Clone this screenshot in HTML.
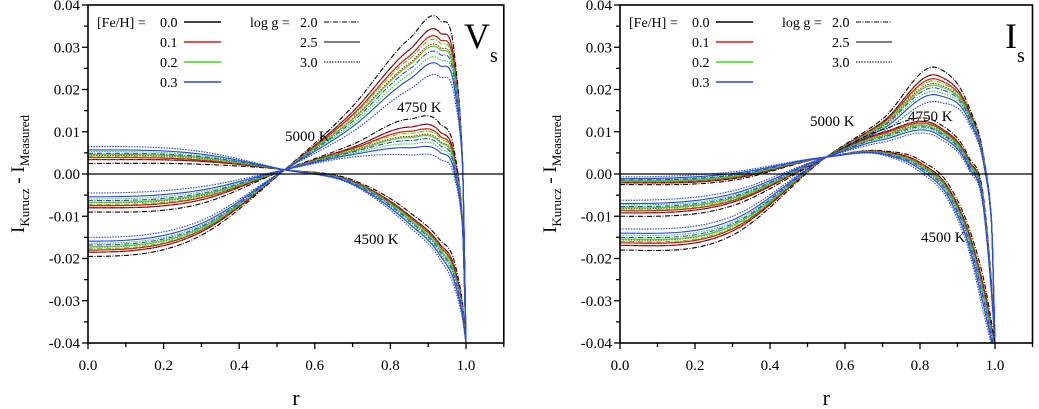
<!DOCTYPE html>
<html><head><meta charset="utf-8"><style>
html,body{margin:0;padding:0;background:#fff}
svg{display:block;font-family:"Liberation Serif",serif}
</style></head><body>
<svg id="chart" width="1039" height="409" viewBox="0 0 1039 409" xmlns="http://www.w3.org/2000/svg">
<defs>
<clipPath id="clipL"><rect x="88" y="5" width="417" height="338"/></clipPath>
<clipPath id="clipR"><rect x="620" y="5" width="417" height="338"/></clipPath>
</defs>
</svg>
<script>
// values in units of 1e-3
const rKeysV5000=[0,0.3,0.52,0.7,0.85,0.93,0.97,0.99,1.0];
const rKeysV4750=[0,0.3,0.52,0.7,0.85,0.93,0.97,0.99,1.0];
const rKeysV4500=[0,0.3,0.52,0.7,0.85,0.93,0.97,0.99,1.0];
const rKeysI5000=[0,0.3,0.55,0.7,0.85,0.93,0.97,0.99,1.0];
const rKeysI4750=[0,0.3,0.55,0.7,0.85,0.93,0.97,0.99,1.0];
const rKeysI4500=[0,0.3,0.55,0.7,0.8,0.88,0.93,0.97,1.0];
// curve order: Fe0.0(g2.0,g2.5,g3.0), Fe0.1(...), Fe0.2(...), Fe0.3(...)
const seriesV5000=[
[-19.5,-14.5,1,16,32,36.5,28,5,-40],[-18.5,-13.7,1,14.7,29.4,33.5,25.8,4.6,-40],[-18,-13.3,1,14,27.9,31.9,24.6,4.3,-40],
[-18.5,-13.7,1,14.7,29.4,33.5,25.8,4.6,-40],[-18,-13.3,1,14,27.9,31.9,24.6,4.3,-40],[-17.3,-12.8,1,13.1,26.2,30,23.2,4,-40],
[-17.7,-13.1,1,13.6,27.2,31.1,24,4.2,-40],[-17.2,-12.7,1,12.9,25.8,29.5,22.8,4,-40],[-16.4,-12.1,1,11.8,23.6,27.1,21,3.6,-40],
[-16.8,-12.4,1,12.4,24.8,28.4,22,3.8,-40],[-15.9,-11.7,1,11.2,22.4,25.7,20,3.4,-40],[-15,-11,1,10,20,23,18,3,-40]];
const seriesV4750=[
[-9,-7,1,7,13,12,5,-10,-40],[-8,-6.1,1,6.3,11.1,10.1,3.7,-10.4,-40],[-7.5,-5.6,1,6,10.1,9.1,3,-10.7,-40],
[-8,-6.1,1,6.3,11.1,10.1,3.7,-10.4,-40],[-7.5,-5.6,1,6,10.1,9.1,3,-10.7,-40],[-6.8,-5.1,1,5.6,8.9,7.9,2.1,-11,-40],
[-7.2,-5.4,1,5.8,9.6,8.6,2.6,-10.8,-40],[-6.7,-4.9,1,5.4,8.6,7.6,1.9,-11,-40],[-5.9,-4.2,1,4.9,7.1,6.1,0.8,-11.4,-40],
[-6.3,-4.6,1,5.2,7.9,6.9,1.4,-11.2,-40],[-5.4,-3.8,1,4.6,6.2,5.2,0.2,-11.6,-40],[-4.5,-3,1,4,4.5,3.5,-1,-12,-40]];
const seriesV4500=[
[2.5,2.3,1,-1.4,-9,-15.5,-21,-30,-40],[3.4,3,1,-1.7,-9.8,-16.5,-22.3,-30.9,-40],[3.9,3.3,1,-1.8,-10.2,-17,-23,-31.4,-40],
[3.4,3,1,-1.7,-9.8,-16.5,-22.3,-30.9,-40],[3.9,3.3,1,-1.8,-10.2,-17,-23,-31.4,-40],[4.4,3.7,1,-2,-10.7,-17.7,-23.9,-31.9,-40],
[4.1,3.5,1,-1.9,-10.4,-17.3,-23.4,-31.6,-40],[4.6,3.9,1,-2,-10.8,-17.8,-24.1,-32.1,-40],[5.3,4.4,1,-2.2,-11.5,-18.7,-25.2,-32.8,-40],
[4.9,4.1,1,-2.1,-11.1,-18.2,-24.6,-32.4,-40],[5.7,4.7,1,-2.4,-11.8,-19.1,-25.8,-33.2,-40],[6.5,5.3,1,-2.6,-12.5,-20,-27,-34,-40]];
const seriesI5000=[
[-18,-14.5,4,13,25,16,4,-10,-40],[-16.9,-13.5,4,12.3,23.2,15.1,3.6,-10.2,-40],[-16.3,-13,4,12,22.3,14.6,3.3,-10.3,-40],
[-16.9,-13.5,4,12.3,23.2,15.1,3.6,-10.2,-40],[-16.3,-13,4,12,22.3,14.6,3.3,-10.3,-40],[-15.6,-12.3,4,11.6,21.2,14.1,3,-10.5,-40],
[-16,-12.7,4,11.8,21.8,14.4,3.2,-10.4,-40],[-15.4,-12.2,4,11.4,20.8,13.9,3,-10.5,-40],[-14.5,-11.4,4,10.9,19.4,13.2,2.6,-10.7,-40],
[-15,-11.8,4,11.2,20.2,13.6,2.8,-10.6,-40],[-14,-10.9,4,10.6,18.6,12.8,2.4,-10.8,-40],[-13,-10,4,10,17,12,2,-11,-40]];
const seriesI4750=[
[-10,-7.5,4,10.5,12,4,-6,-25,-40],[-9.2,-6.7,4,9.8,11.2,3.3,-6.7,-25.7,-40],[-8.7,-6.3,4,9.5,10.8,3,-7,-26,-40],
[-9.2,-6.7,4,9.8,11.2,3.3,-6.7,-25.7,-40],[-8.7,-6.3,4,9.5,10.8,3,-7,-26,-40],[-8.2,-5.8,4,9.1,10.3,2.6,-7.4,-26.4,-40],
[-8.5,-6.1,4,9.3,10.6,2.8,-7.2,-26.2,-40],[-8,-5.7,4,8.9,10.2,2.4,-7.6,-26.6,-40],[-7.3,-5.1,4,8.4,9.6,1.9,-8.1,-27.1,-40],
[-7.7,-5.4,4,8.7,9.9,2.2,-7.8,-26.8,-40],[-7,-4.7,4,8.1,9.2,1.6,-8.4,-27.4,-40],[-6.2,-4,4,7.5,8.5,1,-9,-28,-40]];
const seriesI4500=[
[-2.5,-1.5,4,5.5,3.3,-3,-12.6,-25,-40],[-2.1,-1.1,4,5.3,2.7,-3.9,-13.8,-26.8,-40.9],[-1.9,-0.8,4,5.2,2.3,-4.4,-14.4,-27.7,-41.4],
[-2.1,-1.1,4,5.3,2.7,-3.9,-13.8,-26.8,-40.9],[-1.9,-0.8,4,5.2,2.3,-4.4,-14.4,-27.7,-41.4],[-1.6,-0.5,4,5,2,-4.9,-15.2,-28.8,-41.9],
[-1.8,-0.7,4,5.1,2.2,-4.6,-14.8,-28.2,-41.6],[-1.6,-0.5,4,5,1.8,-5.1,-15.4,-29.2,-42.1],[-1.2,-0.1,4,4.8,1.3,-5.8,-16.4,-30.6,-42.8],
[-1.4,-0.3,4,4.9,1.6,-5.4,-15.8,-29.8,-42.4],[-1.1,0.1,4,4.7,1.1,-6.2,-16.9,-31.4,-43.2],[-0.7,0.5,4,4.5,0.5,-7,-18,-33,-44]];
const feLabels=["0.0","0.1","0.2","0.3"];
const loggLabels=["2.0","2.5","3.0"];
const xTicks=[0,0.2,0.4,0.6,0.8,1.0];
const xTickLabels=["0.0","0.2","0.4","0.6","0.8","1.0"];
const yTicks=[0.04,0.03,0.02,0.01,0,-0.01,-0.02,-0.03,-0.04];
const yTickLabels=["0.04","0.03","0.02","0.01","0.00","-0.01","-0.02","-0.03","-0.04"];

const NS="http://www.w3.org/2000/svg";
const svg=document.getElementById('chart');
const colors=["#000000","#ee1111","#33dd11","#2244ff"];
const dashes=["5,1.5,1,1.5","","1.5,1.2"];
function mk(tag,attrs,parent){const e=document.createElementNS(NS,tag);for(const k in attrs)e.setAttribute(k,attrs[k]);(parent||svg).appendChild(e);return e;}
function yOf(v){return 174-v*4225;}

function tangents(xs,ys){
  const n=xs.length,d=[],m=[];
  for(let k=0;k<n-1;k++)d.push((ys[k+1]-ys[k])/(xs[k+1]-xs[k]));
  m.push(0);
  for(let k=1;k<n-1;k++){
    const h0=xs[k]-xs[k-1],h1=xs[k+1]-xs[k];
    if(k>=n-2){
      if(d[k-1]*d[k]<=0)m.push(0);
      else{const w1=2*h1+h0,w2=h1+2*h0;m.push((w1+w2)/(w1/d[k-1]+w2/d[k]));}
    } else {
      m.push((d[k-1]*h1+d[k]*h0)/(h0+h1));
    }
  }
  m.push(d[n-2]);
  return m;
}

function panel(p){
  const g=mk('g',{});
  
  
  const X=r=>p.x0+r*p.sx;
  const right=p.x0+1.1*p.sx;
  const cg=mk('g',{'clip-path':'url(#'+p.clip+')'},g);
  
  
  p.families.forEach(fam=>{
    fam.series.forEach((vals,i)=>{
      const fe=Math.floor(i/3), lg=i%3, xs=fam.keys;
      const n=xs.length, m=tangents(xs,vals);
      let d='';
      for(let k=0;k<n-1;k++){
        const h=xs[k+1]-xs[k];
        for(let j=0;j<=24;j++){
          if(k>0&&j===0)continue;
          const t=j/24,t2=t*t,t3=t2*t;
          const v=(2*t3-3*t2+1)*vals[k]+(t3-2*t2+t)*h*m[k]+(-2*t3+3*t2)*vals[k+1]+(t3-t2)*h*m[k+1];
          const px=X(xs[k]+t*h), py=yOf(v/1000);
          d+=(d?'L':'M')+px.toFixed(2)+' '+py.toFixed(2);
        }
      }
      const path=mk('path',{d:d,fill:'none',stroke:colors[fe],'stroke-width':'1.1'},cg);
      if(dashes[lg])path.setAttribute('stroke-dasharray',dashes[lg]);
      
      
    });
  });
  const z=mk('line',{x1:p.x0,x2:right,y1:yOf(0),y2:yOf(0),stroke:'#000','stroke-width':'1.3'},g);
  
  
  const fr=mk('rect',{x:p.x0,y:yOf(0.04),width:right-p.x0,height:yOf(-0.04)-yOf(0.04),fill:'none',stroke:'#000','stroke-width':'1.6'},g);
  
  
  for(let v=-0.04;v<=0.0401;v+=0.005){
    const major=Math.abs(Math.round(v*1000)%10)===0;
    mk('line',{x1:p.x0,x2:p.x0-(major?6:4),y1:yOf(v),y2:yOf(v),stroke:'#000','stroke-width':'1.3'},g);
  }
  yTicks.forEach((v,i)=>{
    const t=mk('text',{x:p.x0-8,y:yOf(v)+5,'text-anchor':'end','font-size':'15'},g);
    t.textContent=yTickLabels[i];
    
    
  });
  for(let r=0;r<=1.1001;r+=0.1){
    const major=Math.round(r*10)%2===0;
    mk('line',{x1:X(r),x2:X(r),y1:343,y2:343+(major?6:4),stroke:'#000','stroke-width':'1.3'},g);
  }
  xTicks.forEach((r,i)=>{
    const t=mk('text',{x:X(r),y:370,'text-anchor':'middle','font-size':'15'},g);
    t.textContent=xTickLabels[i];
    
    
  });
  const xt=mk('text',{x:X(0.55),y:405,'text-anchor':'middle','font-size':'22'},g);
  xt.textContent='r';
  
  
  const yt=mk('text',{transform:'translate('+(p.x0-64)+',174) rotate(-90)','text-anchor':'middle','font-size':'19'},g);
  yt.innerHTML='I<tspan font-size="13" dy="5">Kurucz</tspan><tspan dy="-5"> - I</tspan><tspan font-size="13" dy="5">Measured</tspan>';
  
  
  const lg=mk('g',{},g);
  
  
  const lx=p.x0;
  const fh=mk('text',{x:lx+9,y:27,'font-size':'14'},lg); fh.textContent='[Fe/H] =';
  feLabels.forEach((f,i)=>{
    const y=22+i*20;
    const t=mk('text',{x:lx+72,y:y+5,'font-size':'14'},lg); t.textContent=f;
    
    
    mk('line',{x1:lx+96,x2:lx+133,y1:y,y2:y,stroke:colors[i],'stroke-width':'1.4'},lg);
  });
  const lgt=mk('text',{x:lx+162,y:27,'font-size':'14'},lg); lgt.textContent='log g =';
  loggLabels.forEach((f,i)=>{
    const y=22+i*20;
    const t=mk('text',{x:lx+212,y:y+5,'font-size':'14'},lg); t.textContent=f;
    
    
    const l=mk('line',{x1:lx+236,x2:lx+272,y1:y,y2:y,stroke:'#000','stroke-width':'1.1'},lg);
    if(dashes[i])l.setAttribute('stroke-dasharray',dashes[i]);
  });
  const bt=mk('text',{x:p.band[0],y:48,'font-size':'36'},g);
  bt.innerHTML=p.band[2]+'<tspan font-size="20" dy="14">s</tspan>';
  
  
  p.labels.forEach(L=>{
    const t=mk('text',{x:L[1],y:L[2],'font-size':'15'},g); t.textContent=L[0];
    
    
  });
}
panel({name:'v-band-panel',x0:88,sx:378,clip:'clipL',band:[464,0,'V'],
  families:[{t:'5000k',keys:rKeysV5000,series:seriesV5000},{t:'4750k',keys:rKeysV4750,series:seriesV4750},{t:'4500k',keys:rKeysV4500,series:seriesV4500}],
  labels:[['5000 K',285,141],['4750 K',397,112],['4500 K',354,244]]});
panel({name:'i-band-panel',x0:620,sx:375,clip:'clipR',band:[1005,0,'I'],
  families:[{t:'5000k',keys:rKeysI5000,series:seriesI5000},{t:'4750k',keys:rKeysI4750,series:seriesI4750},{t:'4500k',keys:rKeysI4500,series:seriesI4500}],
  labels:[['5000 K',810,126],['4750 K',908,121],['4500 K',921,242]]});
</script>
</body></html>
